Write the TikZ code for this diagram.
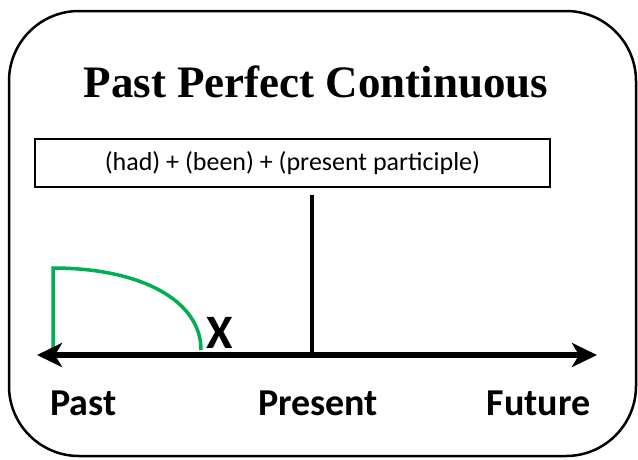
\documentclass[tikz,border=0pt]{standalone}
\usepackage{fontspec}
\setmainfont{Liberation Serif}
\newfontfamily\calibri{Carlito}
\usetikzlibrary{positioning,arrows.meta}
\definecolor{officegreen}{RGB}{0,176,80}
\begin{document}
\begin{tikzpicture}[
  x=1pt, y=-1pt,
  frame/.style   = {draw, line width=2.5pt, rounded corners=70pt},
  formula/.style = {draw, line width=1.2pt, minimum width=515pt, minimum height=48pt, inner sep=0pt, font=\calibri\fontsize{26}{30}\selectfont},
  title/.style   = {anchor=base, font=\bfseries\fontsize{45}{50}\selectfont},
  tlabel/.style  = {anchor=base, inner sep=0pt, font=\calibri\bfseries\fontsize{38}{42}\selectfont},
  axis/.style    = {line width=6pt, {Stealth[length=25pt,width=24pt,inset=7pt]}-{Stealth[length=25pt,width=24pt,inset=7pt]}},
  span/.style    = {officegreen, line width=3.5pt}
]
\useasboundingbox (0,0) rectangle (638,459);
\draw[frame] (9,11) rectangle (636,456);
\node[title] (head) at (316,97) {Past Perfect Continuous};
\node[formula] (form) at (292.5,163) {(had) + (been) + (present participle)};
\coordinate (pastend) at (37,355);
\coordinate (futend)  at (597,355);
\coordinate (now)     at (312,355);
\coordinate (nowtop)  at (312,195);
\coordinate (start)   at (53,355);
\coordinate (starttop) at (53,268);
\coordinate (stop)    at (201,350);
\draw[line width=4pt] (nowtop) -- (now);
\draw[span] (start) -- (starttop) .. controls (140,268) and (201,300) .. (stop);
\draw[axis] (pastend) -- (futend);
\node[tlabel, anchor=base west, font=\calibri\bfseries\fontsize{48}{52}\selectfont] (mark) at (206,348) {X};
\node[tlabel, anchor=base west] (past) at (50,415) {Past};
\node[tlabel] (present) at (318,415) {Present};
\node[tlabel] (future)  at (538.5,415) {Future};
\end{tikzpicture}
\end{document}
